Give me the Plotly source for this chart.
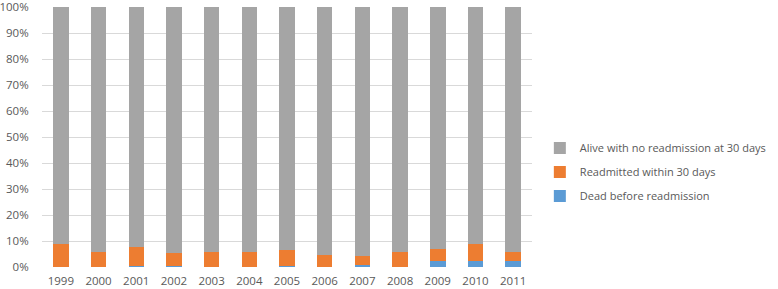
import plotly.graph_objects as go

years = ["1999", "2000", "2001", "2002", "2003", "2004", "2005", "2006", "2007", "2008", "2009", "2010", "2011"]
dead = [0.0, 0.0, 0.3, 0.3, 0.1, 0.1, 0.3, 0.1, 0.6, 0.1, 2.3, 2.4, 2.5]
readmitted = [8.9, 5.7, 7.4, 5.1, 5.6, 5.6, 6.4, 4.6, 3.6, 5.6, 4.8, 6.3, 3.4]
alive = [round(100 - d - r, 1) for d, r in zip(dead, readmitted)]

names = ["Dead before readmission", "Readmitted within 30 days", "Alive with no readmission at 30 days"]
colors = ["#5B9BD5", "#ED7D31", "#A5A5A5"]

fig = go.Figure()
for i, (nm, vals, c) in enumerate(zip(names, [dead, readmitted, alive], colors)):
    fig.add_trace(go.Bar(x=years, y=vals, name=nm, marker=dict(color=c, line=dict(width=0)),
                         legendgroup=str(i), legendrank=1000 - i))

fig.update_layout(
    barmode="stack",
    bargap=0.59,
    width=778, height=289,
    margin=dict(l=42, r=230, t=7, b=22),
    plot_bgcolor="white", paper_bgcolor="white",
    font=dict(family="Open Sans, Liberation Sans, sans-serif", size=11, color="#595959"),
    legend=dict(x=1.016, xanchor="left", y=0.365, yanchor="middle",
                traceorder="grouped", tracegroupgap=5,
                font=dict(size=11, color="#595959"), itemwidth=30),
    showlegend=True,
)
fig.update_yaxes(range=[0, 100.05], tickvals=list(range(0, 101, 10)),
                 ticktext=[f"{v}%" for v in range(0, 101, 10)],
                 showgrid=True, gridcolor="#D9D9D9", ticklabeloverflow="allow",
                 gridwidth=1, zeroline=False, showline=False, tickfont=dict(size=11.5, color="#595959"),
                 ticks="outside", ticklen=10, tickcolor="rgba(0,0,0,0)", automargin=False)
fig.update_xaxes(showgrid=False, showline=False, tickfont=dict(size=11.5, color="#595959"),
                 ticks="outside", ticklen=3, tickcolor="rgba(0,0,0,0)", automargin=False)

fig.write_html("out.html", config={"displayModeBar": False},
               post_script="document.body.style.margin='0';")
